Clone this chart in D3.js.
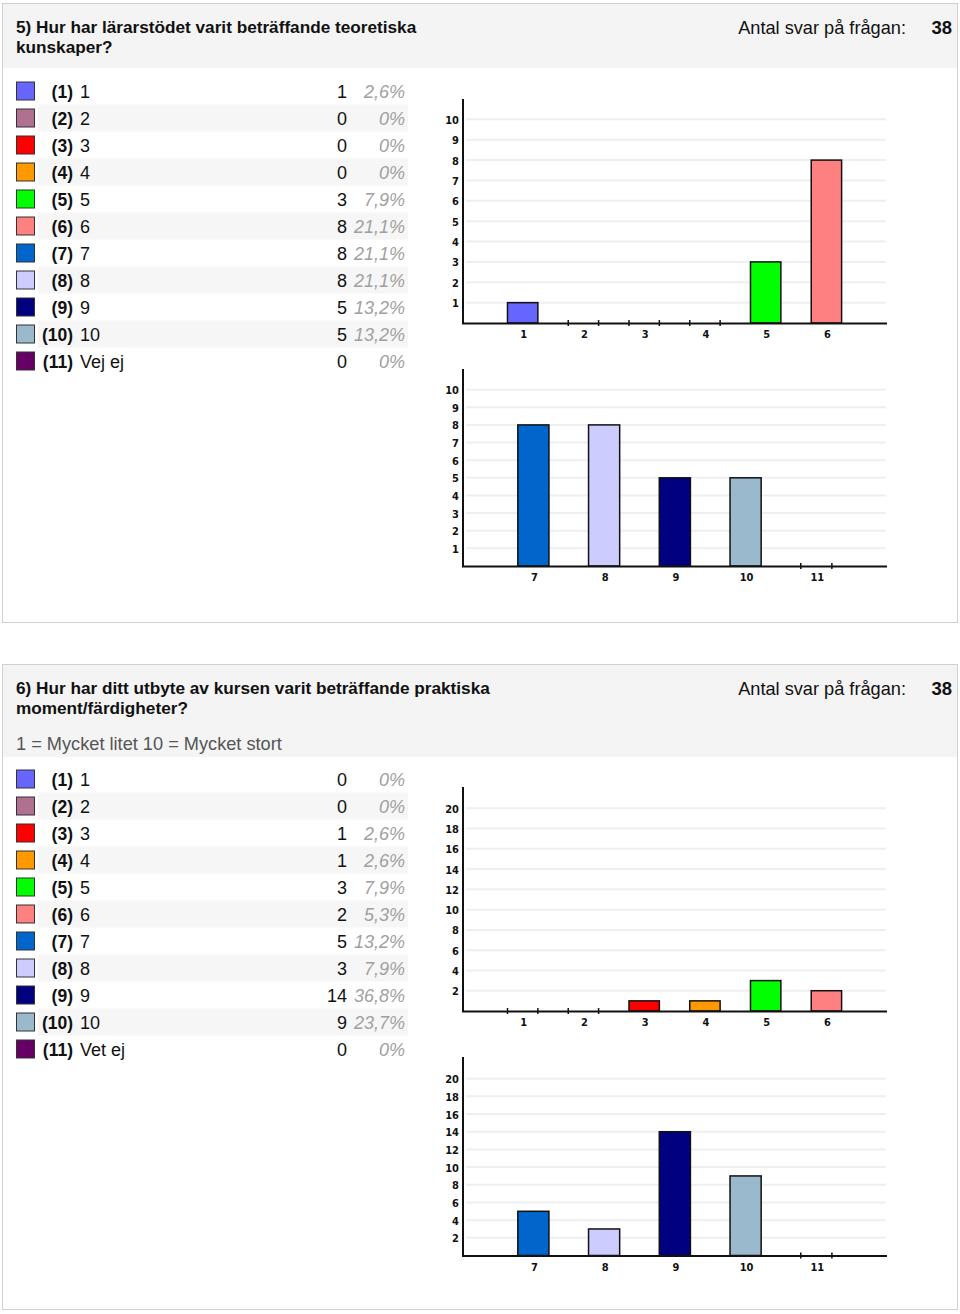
<!DOCTYPE html>
<html><head><meta charset="utf-8">
<script src="https://cdn.jsdelivr.net/npm/d3@7"></script>
<style>
body{margin:0;background:#fff;}
svg{display:block;font-family:"Liberation Sans",Arial,Helvetica,sans-serif;}
</style></head>
<body><svg id="c" width="960" height="1314"></svg>
<script>
const optionNums = ["(1)","(2)","(3)","(4)","(5)","(6)","(7)","(8)","(9)","(10)","(11)"];
const optionLabels1 = ["1","2","3","4","5","6","7","8","9","10","Vej ej"];
const optionLabels2 = ["1","2","3","4","5","6","7","8","9","10","Vet ej"];
const colors = ["#6666ff","#b0708f","#ff0000","#ff9900","#00ff00","#ff8080","#0066cc","#ccccff","#000080","#9ab9cc","#660066"];
const counts1 = [1,0,0,0,3,8,8,8,5,5,0];
const pcts1 = ["2,6%","0%","0%","0%","7,9%","21,1%","21,1%","21,1%","13,2%","13,2%","0%"];
const counts2 = [0,0,1,1,3,2,5,3,14,9,0];
const pcts2 = ["0%","0%","2,6%","2,6%","7,9%","5,3%","13,2%","7,9%","36,8%","23,7%","0%"];
const xCatsA = ["1","2","3","4","5","6"];
const xCatsB = ["7","8","9","10","11"];
const yTicks1 = [1,2,3,4,5,6,7,8,9,10];
const yTicks2 = [2,4,6,8,10,12,14,16,18,20];
const title1 = ["5) Hur har lärarstödet varit beträffande teoretiska","kunskaper?"];
const title2 = ["6) Hur har ditt utbyte av kursen varit beträffande praktiska","moment/färdigheter?"];
const subtitle2 = "1 = Mycket litet 10 = Mycket stort";
const totalLabel = "Antal svar på frågan:";
const total1 = "38", total2 = "38";

const svg = d3.select("#c");

function section(top, bottom, titleLines, total, subtitle, counts, pcts, labels, charts){
  const g = svg.append("g");
  g.append("rect").attr("x",2.5).attr("y",top+0.5).attr("width",955).attr("height",bottom-top)
    .attr("fill","#fff").attr("stroke","#d0d0d0");
  g.append("rect").attr("x",3).attr("y",top+1).attr("width",954).attr("height",64).attr("fill","#f4f4f4");
  titleLines.forEach((t,i)=>{
    g.append("text").attr("x",16).attr("y",top+30+i*20).attr("font-size",17.2).attr("font-weight","bold").attr("fill","#111").text(t);
  });
  g.append("text").attr("x",906).attr("y",top+31).attr("text-anchor","end").attr("font-size",18.2).attr("fill","#111").text(totalLabel);
  g.append("text").attr("x",952).attr("y",top+31).attr("text-anchor","end").attr("font-size",18.5).attr("font-weight","bold").attr("fill","#111").text(total);
  let rowTop = top + 88;
  if(subtitle){
    g.append("rect").attr("x",3).attr("y",top+64).attr("width",954).attr("height",29).attr("fill","#f4f4f4");
    g.append("text").attr("x",16).attr("y",top+86).attr("font-size",18.2).attr("fill","#555").text(subtitle);
    rowTop = top + 115;
  }
  const rowY = d3.scaleBand().domain(d3.range(counts.length)).range([rowTop-13.5, rowTop-13.5+27*counts.length]);
  const rows = g.selectAll("g.row").data(counts).join("g").attr("class","row")
    .attr("transform",(d,i)=>`translate(0,${rowY(i)})`);
  rows.filter((d,i)=>i%2===1).append("rect").attr("x",38).attr("y",0).attr("width",370).attr("height",27).attr("fill","#f6f6f6");
  rows.append("rect").attr("x",16.5).attr("y",4.5).attr("width",18).attr("height",18)
    .attr("fill",(d,i)=>colors[i]).attr("stroke","#333").attr("stroke-width",1);
  rows.append("text").attr("x",73).attr("y",20).attr("text-anchor","end").attr("font-size",17.5).attr("font-weight","bold").attr("fill","#111").text((d,i)=>optionNums[i]);
  rows.append("text").attr("x",80).attr("y",20).attr("font-size",18).attr("fill","#111").text((d,i)=>labels[i]);
  rows.append("text").attr("x",347).attr("y",20).attr("text-anchor","end").attr("font-size",18).attr("fill","#111").text(d=>d);
  rows.append("text").attr("x",405).attr("y",20).attr("text-anchor","end").attr("font-size",18).attr("font-style","italic").attr("fill","#a0a0a0").text((d,i)=>pcts[i]);

  charts.forEach(ch=>drawChart(g, ch, counts));
}

function drawChart(g, ch, counts){
  const {cats, offset, yMax, ticks, base, top, axisTop, x0, x1, pin, pout} = ch;
  const x = d3.scaleBand().domain(cats).range([x0,x1]).paddingInner(pin).paddingOuter(pout);
  const y = d3.scaleLinear().domain([0,yMax]).range([base, top]);
  const c = g.append("g");
  c.selectAll("line.grid").data(ticks).join("line")
    .attr("x1",466).attr("x2",886).attr("y1",d=>y(d)).attr("y2",d=>y(d))
    .attr("stroke","#efefef").attr("stroke-width",2);
  c.selectAll("text.yt").data(ticks).join("text")
    .attr("x",459).attr("y",d=>y(d)+4.5).attr("text-anchor","end")
    .attr("font-family","'DejaVu Sans Condensed','DejaVu Sans',sans-serif").attr("font-weight","bold").attr("font-size",11)
    .attr("fill","#111").text(d=>d);
  const data = cats.map((k,i)=>({k, v: counts[offset+i], col: colors[offset+i]}));
  c.selectAll("rect.bar").data(data.filter(d=>d.v>0)).join("rect")
    .attr("x",d=>x(d.k)).attr("y",d=>y(d.v)).attr("width",x.bandwidth()).attr("height",d=>y(0)-y(d.v))
    .attr("fill",d=>d.col).attr("stroke","#111").attr("stroke-width",1.5);
  const zeros = data.filter(d=>d.v===0);
  c.selectAll("line.z1").data(zeros).join("line")
    .attr("x1",d=>x(d.k)).attr("x2",d=>x(d.k)).attr("y1",y(0)-3).attr("y2",y(0)+3).attr("stroke","#111").attr("stroke-width",1.5);
  c.selectAll("line.z2").data(zeros).join("line")
    .attr("x1",d=>x(d.k)+x.bandwidth()).attr("x2",d=>x(d.k)+x.bandwidth()).attr("y1",y(0)-3).attr("y2",y(0)+3).attr("stroke","#111").attr("stroke-width",1.5);
  c.append("line").attr("x1",463).attr("x2",463).attr("y1",axisTop).attr("y2",y(0)+1).attr("stroke","#111").attr("stroke-width",2);
  c.append("line").attr("x1",462).attr("x2",887).attr("y1",y(0)+0.5).attr("y2",y(0)+0.5).attr("stroke","#111").attr("stroke-width",2);
  c.selectAll("text.xt").data(cats).join("text")
    .attr("x",d=>x(d)+x.bandwidth()/2+1).attr("y",y(0)+15).attr("text-anchor","middle")
    .attr("font-family","'DejaVu Sans Condensed','DejaVu Sans',sans-serif").attr("font-weight","bold").attr("font-size",11)
    .attr("fill","#111").text(d=>d);
}

section(3, 622, title1, total1, null, counts1, pcts1, optionLabels1, [
  {cats:xCatsA, offset:0, yMax:11, ticks:yTicks1, base:323, top:99, axisTop:99, x0:492.3, x1:856.8, pin:0.5, pout:0.25},
  {cats:xCatsB, offset:6, yMax:11, ticks:yTicks1, base:566, top:372, axisTop:369, x0:498, x1:851.7, pin:0.56, pout:0.28}
]);
section(664, 1309, title2, total2, subtitle2, counts2, pcts2, optionLabels2, [
  {cats:xCatsA, offset:0, yMax:22, ticks:yTicks2, base:1011, top:788, axisTop:787, x0:492.3, x1:856.8, pin:0.5, pout:0.25},
  {cats:xCatsB, offset:6, yMax:22, ticks:yTicks2, base:1255.5, top:1061, axisTop:1057, x0:498, x1:851.7, pin:0.56, pout:0.28}
]);
</script></body></html>
